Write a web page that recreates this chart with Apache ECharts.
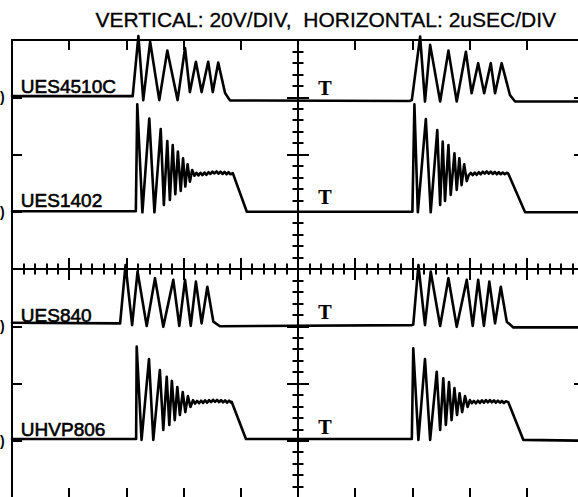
<!DOCTYPE html>
<html>
<head>
<meta charset="utf-8">
<script src="https://cdn.jsdelivr.net/npm/echarts@6/dist/echarts.min.js"></script>
<style>
  html, body { margin: 0; padding: 0; background: #ffffff; }
  #main { width: 578px; height: 497px; }
</style>
</head>
<body>
<div id="main"></div>
<script>
// ---- Data: time in microseconds (2 us/div), volts relative to channel baseline (20 V/div)
const titleText = 'VERTICAL: 20V/DIV,\u00a0 HORIZONTAL: 2uSEC/DIV';
const channelNames = ['UES4510C', 'UES1402', 'UES840', 'UHVP806'];
const channelOffsetsV = [60, 20, -20, -60];
const markerText = 'T';
const groundMarkText = ')';

const ues4510c = [
  [-10, 0.4], [-5.78, 0.4], [-5.58, 21.4], [-5.41, -1.0], [-5.17, 19.4], [-4.85, -1.0], [-4.57, 16.3],
  [-4.21, -1.0], [-3.95, 17.2], [-3.78, 1.8], [-3.57, 12.4], [-3.37, 1.8], [-3.14, 12.4], [-2.98, 1.8],
  [-2.79, 12.1], [-2.55, 1.5], [-2.38, -1.1],
  [3.90, -1.3], [3.98, -1.0], [4.27, 21.2], [4.44, -1.5], [4.62, 18.3], [4.97, -1.5], [5.26, 16.3],
  [5.55, -1.5], [5.87, 15.9], [6.07, 1.4], [6.30, 11.9], [6.51, 1.4], [6.74, 11.9], [6.89, 1.4],
  [7.12, 11.9], [7.41, 0.8], [7.59, -1.5], [10, -1.5]
];

const ues1402 = [
  [-10, 0.2], [-5.67, 0.2], [-5.62, 37.5], [-5.44, -0.2], [-5.20, 32.6], [-5.02, -0.2], [-4.80, 28.9],
  [-4.69, 2.4], [-4.57, 24.7], [-4.48, 4.1], [-4.38, 23.3], [-4.29, 6.1], [-4.20, 21.0], [-4.10, 7.3],
  [-4.02, 18.7], [-3.94, 8.8], [-3.86, 16.6], [-3.78, 10.5], [-3.70, 14.6],
  [-3.62, 12.6], [-3.55, 13.6], [-3.48, 12.7], [-3.41, 13.6], [-3.34, 12.8], [-3.27, 13.7], [-3.20, 12.9],
  [-3.13, 13.8], [-3.06, 13.2], [-2.99, 14.0], [-2.92, 13.4], [-2.85, 14.1], [-2.78, 13.3], [-2.71, 14.0],
  [-2.64, 13.2], [-2.57, 13.9], [-2.50, 13.1], [-2.43, 13.8], [-2.36, 13.1], [-2.28, 13.5],
  [-1.79, 0.0],
  [4.00, 0.0], [4.07, 37.5], [4.19, -0.2], [4.47, 32.4], [4.64, -0.2], [4.87, 28.5], [4.97, 2.4],
  [5.06, 24.5], [5.14, 3.8], [5.26, 23.3], [5.34, 5.9], [5.47, 20.4], [5.55, 7.6], [5.64, 18.7],
  [5.72, 9.3], [5.81, 16.6], [5.90, 10.7],
  [5.97, 12.8], [6.04, 13.6], [6.11, 12.8], [6.18, 13.7], [6.25, 12.9], [6.32, 13.8], [6.39, 13.1],
  [6.46, 14.0], [6.53, 13.3], [6.60, 14.1], [6.67, 13.3], [6.74, 14.0], [6.81, 13.2], [6.88, 13.9],
  [6.95, 13.1], [7.02, 13.8], [7.09, 13.1], [7.16, 13.7], [7.23, 13.1], [7.30, 13.6], [7.35, 13.4],
  [7.94, -0.2], [10, -0.2]
];

const ues840 = [
  [-10, 1.2], [-6.22, 1.0], [-6.03, 21.4], [-5.80, 0.4], [-5.61, 19.1], [-5.29, 0.1], [-5.00, 16.8],
  [-4.71, -0.2], [-4.36, 16.2], [-4.15, 0.1], [-3.95, 16.2], [-3.75, 0.1], [-3.57, 15.6], [-3.37, 1.0],
  [-3.17, 13.8], [-2.96, 1.6], [-2.73, 0.0],
  [3.98, 0.4], [4.03, 0.6], [4.21, 21.4], [4.44, 0.4], [4.64, 19.1], [4.97, 0.1], [5.26, 16.8],
  [5.55, -0.2], [5.90, 16.2], [6.11, 0.1], [6.30, 16.2], [6.50, 0.1], [6.69, 15.6], [6.89, 1.0],
  [7.09, 13.8], [7.30, 1.6], [7.53, -0.4], [10, -0.4]
];

const uhvp806 = [
  [-10, 0.6], [-5.66, 0.6], [-5.64, 32.9], [-5.47, 0.3], [-5.21, 28.5], [-5.06, 0.3], [-4.83, 24.7],
  [-4.71, 3.8], [-4.59, 22.3], [-4.50, 5.5], [-4.41, 20.9], [-4.31, 7.2], [-4.22, 18.8], [-4.13, 9.0],
  [-4.03, 17.0], [-3.94, 10.0], [-3.85, 15.6], [-3.76, 11.8], [-3.67, 14.2],
  [-3.60, 13.0], [-3.53, 13.9], [-3.46, 13.1], [-3.39, 14.0], [-3.32, 13.2], [-3.25, 14.1], [-3.18, 13.3],
  [-3.11, 14.2], [-3.04, 13.5], [-2.97, 14.3], [-2.90, 13.6], [-2.83, 14.3], [-2.76, 13.5], [-2.69, 14.2],
  [-2.62, 13.4], [-2.55, 14.1], [-2.48, 13.3], [-2.41, 14.0], [-2.34, 13.3], [-2.32, 13.6],
  [-1.82, 0.6],
  [3.98, 0.6], [4.03, 32.3], [4.21, 0.3], [4.44, 28.5], [4.62, 0.3], [4.85, 24.1], [4.97, 3.8],
  [5.08, 21.8], [5.17, 5.5], [5.28, 20.5], [5.37, 7.2], [5.47, 18.4], [5.56, 9.0], [5.65, 16.6],
  [5.74, 10.0], [5.84, 15.6], [5.93, 11.8], [6.01, 14.2],
  [6.08, 13.1], [6.15, 13.9], [6.22, 13.1], [6.29, 14.0], [6.36, 13.2], [6.43, 14.1], [6.50, 13.3],
  [6.57, 14.2], [6.64, 13.4], [6.71, 14.2], [6.78, 13.4], [6.85, 14.1], [6.92, 13.3], [6.99, 14.0],
  [7.06, 13.3], [7.13, 13.9], [7.20, 13.2], [7.27, 13.8], [7.35, 13.5],
  [7.88, 0.3], [10, 0.0]
];

const channelData = [ues4510c, ues1402, ues840, uhvp806];

// label anchor positions in data units (us, V relative to channel baseline)
const nameLabelAt = [-9.69, 3.8];
const markerLabelX = 0.94;
const markerLabelV = [3.0, 5.0, 4.8, 4.6];
const groundMarkAt = [-10.42, 0.0];

// ---- Chart
const chart = echarts.init(document.getElementById('main'), null, { renderer: 'svg' });
const INK = '#000000';
const lineStyle = { color: INK, width: 2 };

function borderAxis(dim, pos) {
  const isX = dim === 'x';
  return {
    type: 'value', gridIndex: 0, position: pos,
    min: isX ? -10 : -80, max: isX ? 10 : 80, interval: isX ? 2 : 20,
    axisLine: { show: true, onZero: false, lineStyle: lineStyle },
    axisTick: { show: true, inside: true, length: 10, lineStyle: lineStyle },
    minorTick: { show: false },
    axisLabel: { show: false }, splitLine: { show: false }, silent: true
  };
}
function centerAxis(dim, pos) {
  const isX = dim === 'x';
  return {
    type: 'value', gridIndex: 0, position: pos,
    min: isX ? -10 : -80, max: isX ? 10 : 80, interval: isX ? 2 : 20,
    axisLine: { show: true, onZero: true, onZeroAxisIndex: 0, lineStyle: lineStyle },
    axisTick: { show: true, inside: false, length: 11, lineStyle: lineStyle },
    minorTick: { show: true, splitNumber: 5, length: 5.5, lineStyle: lineStyle },
    axisLabel: { show: false }, splitLine: { show: false }, minorSplitLine: { show: false }, silent: true
  };
}

chart.setOption({
  animation: false,
  backgroundColor: '#ffffff',
  grid: { left: 12, top: 40, width: 572, height: 458, containLabel: false, outerBoundsMode: 'none', show: false },
  xAxis: [borderAxis('x', 'bottom'), borderAxis('x', 'top'), centerAxis('x', 'bottom'), centerAxis('x', 'top')],
  yAxis: [borderAxis('y', 'left'), borderAxis('y', 'right'), centerAxis('y', 'left'), centerAxis('y', 'right')],
  series: channelData.map((d, i) => ({
    type: 'line', name: channelNames[i], xAxisIndex: 0, yAxisIndex: 0,
    data: d.map(p => [p[0], p[1] + channelOffsetsV[i]]),
    symbol: 'none', clip: false, silent: true,
    lineStyle: { color: INK, width: 2.6, join: 'round', cap: 'round' }
  }))
});

const toPx = (t, v) => chart.convertToPixel({ xAxisIndex: 0, yAxisIndex: 0 }, [t, v]);
const graphics = [];
const titleCenter = toPx(0.97, 80);
graphics.push({
  type: 'text', x: titleCenter[0], y: 19, silent: true,
  style: { text: titleText, font: '21px "Liberation Sans", Arial, sans-serif', fill: INK,
           stroke: INK, lineWidth: 0.3, align: 'center', verticalAlign: 'middle' }
});
channelNames.forEach((name, i) => {
  const p = toPx(nameLabelAt[0], channelOffsetsV[i] + nameLabelAt[1]);
  graphics.push({ type: 'text', x: p[0], y: p[1], silent: true,
    style: { text: name, font: '19px "Liberation Sans", Arial, sans-serif', fill: INK,
             stroke: INK, lineWidth: 0.6, align: 'left', verticalAlign: 'middle' } });
  const q = toPx(markerLabelX, channelOffsetsV[i] + markerLabelV[i]);
  graphics.push({ type: 'text', x: q[0], y: q[1], silent: true,
    style: { text: markerText, font: 'bold 18px "DejaVu Serif", serif', fill: INK, align: 'center', verticalAlign: 'middle' } });
  const g = toPx(groundMarkAt[0], channelOffsetsV[i] + groundMarkAt[1]);
  graphics.push({ type: 'text', x: g[0], y: g[1], silent: true,
    style: { text: groundMarkText, font: 'bold 14px "Liberation Sans", Arial, sans-serif', fill: INK, align: 'left', verticalAlign: 'middle' } });
});
chart.setOption({ graphic: graphics });
</script>
</body>
</html>
